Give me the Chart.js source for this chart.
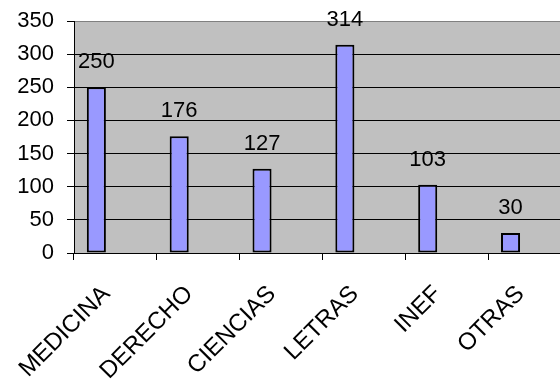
<!DOCTYPE html>
<html>
<head>
<meta charset="utf-8">
<script src="https://cdn.jsdelivr.net/npm/chart.js@4.4.1/dist/chart.umd.min.js"></script>
<style>
  html, body { margin: 0; padding: 0; background: #ffffff; overflow: hidden; }
  #wrap { width: 600px; height: 380px; position: relative; }
</style>
</head>
<body>
<div id="wrap"><canvas id="chart"></canvas></div>
<script>
// Alumnos por facultad
const categories = ['MEDICINA', 'DERECHO', 'CIENCIAS', 'LETRAS', 'INEF', 'OTRAS'];
const alumnos = [250, 176, 127, 314, 103, 30];
// the other two series of the workbook hold no values
const serie2 = [];
const serie3 = [];
// value axis
const yMin = 0;
const yMax = 350;
const yStep = 50;

const FONT = { family: "'Liberation Sans', Arial, sans-serif", size: 22 };
const CAT_FONT = { family: "'Liberation Sans', Arial, sans-serif", size: 24 };

const barStyle = {
  backgroundColor: '#9999FF',
  borderColor: '#000000',
  borderWidth: 2,
  borderSkipped: false,
  categoryPercentage: 0.69,
  barPercentage: 1.0
};

// grey plot area behind grid and bars
const plotArea = {
  id: 'plotArea',
  beforeDraw(chart) {
    const { ctx, chartArea: a } = chart;
    ctx.save();
    ctx.fillStyle = '#C0C0C0';
    ctx.fillRect(a.left, a.top, a.right - a.left, a.bottom - a.top);
    ctx.restore();
  }
};

// value written above each bar
const valueLabels = {
  id: 'valueLabels',
  afterDatasetsDraw(chart) {
    const { ctx } = chart;
    const meta = chart.getDatasetMeta(0);
    const data = chart.data.datasets[0].data;
    ctx.save();
    ctx.font = FONT.size + 'px ' + FONT.family;
    ctx.fillStyle = '#000';
    ctx.textAlign = 'center';
    ctx.textBaseline = 'alphabetic';
    meta.data.forEach((bar, i) => {
      ctx.fillText(String(data[i]), bar.x, bar.y - 19);
    });
    ctx.restore();
  }
};

new Chart(document.getElementById('chart'), {
  type: 'bar',
  data: {
    labels: categories,
    datasets: [
      Object.assign({ label: 'Alumnos', data: alumnos }, barStyle),
      Object.assign({ label: 'Serie 2', data: serie2 }, barStyle),
      Object.assign({ label: 'Serie 3', data: serie3 }, barStyle)
    ]
  },
  options: {
    responsive: true,
    maintainAspectRatio: false,
    animation: false,
    events: [],
    layout: { padding: { top: 21, right: 29, left: 0, bottom: 0 } },
    plugins: {
      legend: { display: false },
      tooltip: { enabled: false },
      title: { display: false },
      colors: { enabled: false }
    },
    scales: {
      x: {
        afterFit(s) { s.height = 127; },
        grid: {
          offset: true,
          drawOnChartArea: false,
          drawTicks: true,
          tickLength: 7,
          color: '#000000'
        },
        border: { color: '#000000', width: 1 },
        ticks: {
          autoSkip: false,
          minRotation: 45,
          maxRotation: 45,
          padding: 20,
          labelOffset: -9,
          color: '#000000',
          font: CAT_FONT
        }
      },
      y: {
        min: yMin,
        max: yMax,
        afterFit(s) {
          s.width = 74;
          // the top label may sit above the plot area
          s.paddingTop = 0;
          s.paddingBottom = 0;
        },
        grid: {
          color: (c) => (c.tick && c.tick.value === yMax ? '#808080' : '#000000'),
          tickColor: '#000000',
          tickLength: 7,
          drawTicks: true
        },
        border: { color: '#000000', width: 1 },
        ticks: {
          stepSize: yStep,
          padding: 13,
          color: '#000000',
          font: FONT
        }
      }
    }
  },
  plugins: [plotArea, valueLabels]
});
</script>
</body>
</html>
